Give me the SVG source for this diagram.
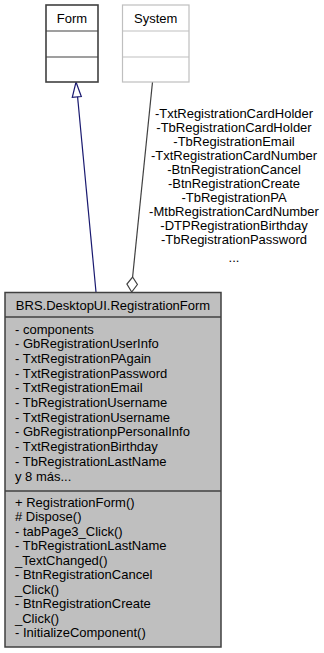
<svg xmlns="http://www.w3.org/2000/svg" width="324" height="653" viewBox="0 0 324 653">
  <style>
    text { font-family: "Liberation Sans", Arial, sans-serif; font-size: 13px; fill: #000; }
    .mid { text-anchor: middle; }
    .box { fill: #bfbfbf; stroke: #404040; stroke-width: 1.5; }
    .sep { stroke: #404040; stroke-width: 1.5; }
    .ext { fill: #fff; stroke: #404040; stroke-width: 1.6; }
    .extsep { stroke: #404040; stroke-width: 1.2; }
    .sys { fill: #fff; stroke: #bfbfbf; stroke-width: 1.2; }
    .inherit { fill: none; stroke: #191970; stroke-width: 1.2; }
    .uses { fill: none; stroke: #404040; stroke-width: 1.2; }
  </style>
  <rect width="324" height="653" fill="#fff"/>

  <!-- connectors -->
  <g id="edges">
    <path class="inherit" d="M96,292 L77.5,96"/>
    <polygon points="76,82 81.3,96.5 72.3,97.3" fill="#fff" stroke="#191970" stroke-width="1.2"/>
    <path class="uses" d="M152.5,82 L132.6,277"/>
    <polygon points="132.6,277 137.4,284.5 131.7,292 126.9,284" fill="#fff" stroke="#404040" stroke-width="1.2"/>
    <g id="edge-labels">
      <text class="mid" x="234" y="118">-TxtRegistrationCardHolder</text>
      <text class="mid" x="234" y="132">-TbRegistrationCardHolder</text>
      <text class="mid" x="234" y="146">-TbRegistrationEmail</text>
      <text class="mid" x="234" y="160">-TxtRegistrationCardNumber</text>
      <text class="mid" x="234" y="174">-BtnRegistrationCancel</text>
      <text class="mid" x="234" y="188">-BtnRegistrationCreate</text>
      <text class="mid" x="234" y="202">-TbRegistrationPA</text>
      <text class="mid" x="234" y="216">-MtbRegistrationCardNumber</text>
      <text class="mid" x="234" y="230">-DTPRegistrationBirthday</text>
      <text class="mid" x="234" y="244">-TbRegistrationPassword</text>
      <text class="mid" x="234" y="262">...</text>
    </g>
  </g>

  <!-- base class -->
  <g id="node-form">
    <rect class="ext" x="46" y="5" width="52" height="77"/>
    <line class="extsep" x1="46" y1="31" x2="98" y2="31"/>
    <line class="extsep" x1="46" y1="57" x2="98" y2="57"/>
    <text class="mid" x="72" y="22.5">Form</text>
  </g>

  <!-- external namespace -->
  <g id="node-system">
    <rect class="sys" x="122.5" y="5" width="66.5" height="77"/>
    <line class="sys" x1="122.5" y1="31" x2="189" y2="31"/>
    <line class="sys" x1="122.5" y1="57" x2="189" y2="57"/>
    <text class="mid" x="155.75" y="22.5">System</text>
  </g>

  <!-- documented class -->
  <g id="node-registrationform">
    <rect class="box" x="5" y="292.5" width="216" height="354.5"/>
    <line class="sep" x1="5" y1="317" x2="221" y2="317"/>
    <line class="sep" x1="5" y1="491" x2="221" y2="491"/>
    <text class="mid" x="113" y="309.5">BRS.DesktopUI.RegistrationForm</text>
    <g id="attributes">
      <text x="15" y="333.5">- components</text>
      <text x="15" y="348.2">- GbRegistrationUserInfo</text>
      <text x="15" y="362.9">- TxtRegistrationPAgain</text>
      <text x="15" y="377.6">- TxtRegistrationPassword</text>
      <text x="15" y="392.3">- TxtRegistrationEmail</text>
      <text x="15" y="407">- TbRegistrationUsername</text>
      <text x="15" y="421.7">- TxtRegistrationUsername</text>
      <text x="15" y="436.4">- GbRegistrationpPersonalInfo</text>
      <text x="15" y="451.1">- TxtRegistrationBirthday</text>
      <text x="15" y="465.8">- TbRegistrationLastName</text>
      <text x="15" y="480.5">y 8 más...</text>
    </g>
    <g id="operations">
      <text x="15" y="506.5">+ RegistrationForm()</text>
      <text x="15" y="521">#&#160;Dispose()</text>
      <text x="15" y="535.5">- tabPage3_Click()</text>
      <text x="15" y="550">- TbRegistrationLastName</text>
      <text x="15" y="564.5">_TextChanged()</text>
      <text x="15" y="579">- BtnRegistrationCancel</text>
      <text x="15" y="593.5">_Click()</text>
      <text x="15" y="608">- BtnRegistrationCreate</text>
      <text x="15" y="622.5">_Click()</text>
      <text x="15" y="637">- InitializeComponent()</text>
    </g>
  </g>
</svg>
